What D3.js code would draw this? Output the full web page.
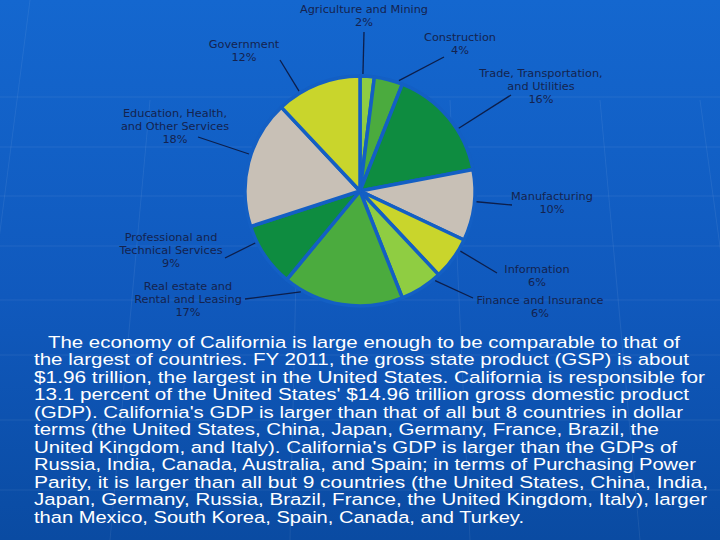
<!DOCTYPE html>
<html><head><meta charset="utf-8">
<script src="https://cdn.jsdelivr.net/npm/d3@7"></script>
<style>html,body{margin:0;padding:0;background:#0f58bd;}svg{display:block;}</style>
</head><body>
<script>
const sectors = ["Agriculture and Mining","Construction","Trade, Transportation, and Utilities","Manufacturing","Information","Finance and Insurance","Real estate and Rental and Leasing","Professional and Technical Services","Education, Health, and Other Services","Government"];
const shares = [2,4,16,10,6,6,17,9,18,12];
const labelLines = [["Agriculture and Mining"],["Construction"],["Trade, Transportation,","and Utilities"],["Manufacturing"],["Information"],["Finance and Insurance"],["Real estate and","Rental and Leasing"],["Professional and","Technical Services"],["Education, Health,","and Other Services"],["Government"]];
const paragraph = [
"The economy of California is large enough to be comparable to that of",
"the largest of countries. FY 2011, the gross state product (GSP) is about",
"$1.96 trillion, the largest in the United States. California is responsible for",
"13.1 percent of the United States' $14.96 trillion gross domestic product",
"(GDP). California's GDP is larger than that of all but 8 countries in dollar",
"terms (the United States, China, Japan, Germany, France, Brazil, the",
"United Kingdom, and Italy). California's GDP is larger than the GDPs of",
"Russia, India, Canada, Australia, and Spain; in terms of Purchasing Power",
"Parity, it is larger than all but 9 countries (the United States, China, India,",
"Japan, Germany, Russia, Brazil, France, the United Kingdom, Italy), larger",
"than Mexico, South Korea, Spain, Canada, and Turkey."];

// layout (not data)
const W=720,H=540, cx=360, cy=191, R=115;
const colors = ["#8fcd42","#4bab3e","#0e8c40","#c8c0b6","#c9d52c","#8fcd42","#4bab3e","#0e8c40","#c8c0b6","#c9d52c"];
const labelPos = [[364,9],[460,37],[541,73],[552,196],[537,269],[540,300],[188,286],[171,237],[175,113],[244,44]];
const leaderEnd = [[364,32],[444,57],[511,95],[512,205],[497,273],[473,298],[245,299],[225,258],[198,137],[280,60]];
const paraX = [48,34,34,34,34,34,34,34,34,34,34];
const paraEnd = [680,689,705,689,683,659,677,696,708,707,524];

const svg = d3.select("body").append("svg").attr("width",W).attr("height",H);
const defs = svg.append("defs");
const g = defs.append("linearGradient").attr("id","bg").attr("x1",0).attr("y1",0).attr("x2",0).attr("y2",1);
g.append("stop").attr("offset","0%").attr("stop-color","#1467cf");
g.append("stop").attr("offset","55%").attr("stop-color","#1059bd");
g.append("stop").attr("offset","100%").attr("stop-color","#0a4ba2");
svg.append("rect").attr("width",W).attr("height",H).attr("fill","url(#bg)");

// faint grid
const grid = svg.append("g").attr("stroke","rgba(255,255,255,0.07)").attr("stroke-width",1);
[97,147,196,246,300,355,420,490].forEach(y=>grid.append("line").attr("x1",0).attr("x2",W).attr("y1",y).attr("y2",y));
[[30,0,-40,540],[150,100,110,540],[300,100,290,540],[450,100,470,540],[600,100,640,540],[700,100,760,540]].forEach(d=>grid.append("line").attr("x1",d[0]).attr("y1",d[1]).attr("x2",d[2]).attr("y2",d[3]));

const pie = d3.pie().sort(null).value(d=>d)(shares);
const arc = d3.arc().innerRadius(0).outerRadius(R);
const chart = svg.append("g").attr("transform",`translate(${cx},${cy})`);
chart.selectAll("path").data(pie).join("path")
  .attr("d",arc).attr("fill",(d,i)=>colors[i])
  .attr("stroke","#135fc4").attr("stroke-width",3.5).attr("stroke-linejoin","round");

// leader lines: point on slice edge nearest the label direction
function anchor(d,i){
  const e = leaderEnd[i];
  let a = Math.atan2(e[0]-cx, -(e[1]-cy));
  if (a<0) a += 2*Math.PI;
  const m = 0.15*(d.endAngle-d.startAngle);
  a = Math.max(d.startAngle+m, Math.min(d.endAngle-m, a));
  return [cx+(R+2)*Math.sin(a), cy-(R+2)*Math.cos(a)];
}
svg.append("g").selectAll("line").data(pie).join("line")
  .attr("x1",(d,i)=>leaderEnd[i][0]).attr("y1",(d,i)=>leaderEnd[i][1])
  .attr("x2",(d,i)=>anchor(d,i)[0]).attr("y2",(d,i)=>anchor(d,i)[1])
  .attr("stroke","#0d1e4a").attr("stroke-width",1.3);

// labels
const lab = svg.append("g").attr("font-family","DejaVu Sans, sans-serif").attr("font-size",11.3).attr("fill","#14234f").attr("text-anchor","middle");
pie.forEach((d,i)=>{
  const lines = labelLines[i].concat([shares[i]+"%"]);
  const t = lab.append("text").attr("x",labelPos[i][0]).attr("y",labelPos[i][1]+4);
  lines.forEach((s,k)=>t.append("tspan").attr("x",labelPos[i][0]).attr("dy",k?13.2:0).text(s));
});

// paragraph
const para = svg.append("g").attr("font-family","Liberation Sans, Arial, sans-serif").attr("font-size",16.3).attr("fill","#ffffff");
paragraph.forEach((s,i)=>{
  para.append("text").attr("x",paraX[i]).attr("y",347.5+i*17.5)
    .attr("textLength",paraEnd[i]-paraX[i]).attr("lengthAdjust","spacingAndGlyphs").text(s);
});
</script>
</body></html>
